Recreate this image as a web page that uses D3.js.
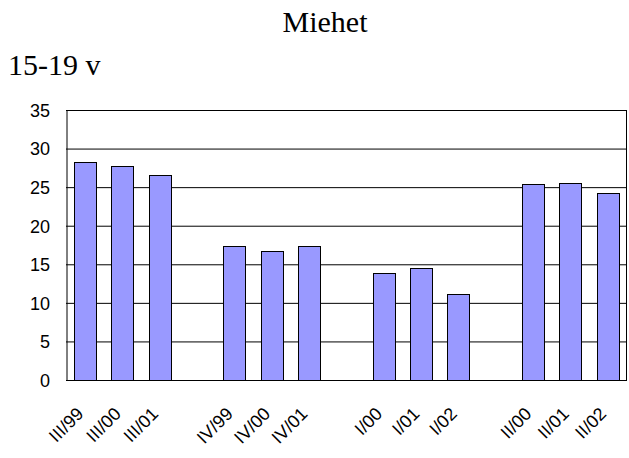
<!DOCTYPE html>
<html>
<head>
<meta charset="utf-8">
<script src="https://cdn.jsdelivr.net/npm/d3@7"></script>
<style>
  body { margin: 0; background: #fff; }
  .title { font-family: "Liberation Serif", "Times New Roman", serif; font-size: 30px; fill: #000; }
  .lbl { font-family: "Liberation Sans", Arial, sans-serif; font-size: 18px; fill: #000; }
</style>
</head>
<body>
<svg id="chart"></svg>
<script>
// values
const groups = [
  ['III/99', 'III/00', 'III/01'],
  ['IV/99', 'IV/00', 'IV/01'],
  ['I/00', 'I/01', 'I/02'],
  ['II/00', 'II/01', 'II/02']
];
const values = [
  [28.2, 27.8, 26.6],
  [17.4, 16.7, 17.4],
  [13.9, 14.5, 11.2],
  [25.4, 25.6, 24.2]
];
const yTicks = [0, 5, 10, 15, 20, 25, 30, 35];
const title = 'Miehet';
const subtitle = '15-19 v';

const width = 629, height = 458;
const margin = { top: 110, right: 3, bottom: 78, left: 66 };
const innerW = width - margin.left - margin.right;
const innerH = height - margin.top - margin.bottom;

// slots: categories with an empty slot between groups
const slots = [];
const data = [];
groups.forEach((g, gi) => {
  if (gi > 0) slots.push('gap' + gi);
  g.forEach((c, ci) => {
    slots.push(c);
    data.push({ cat: c, value: values[gi][ci] });
  });
});

const svg = d3.select('#chart')
  .attr('width', width)
  .attr('height', height);

svg.append('text')
  .attr('class', 'title')
  .attr('x', 325)
  .attr('y', 32)
  .attr('text-anchor', 'middle')
  .text(title);

svg.append('text')
  .attr('class', 'title')
  .attr('x', 8)
  .attr('y', 75)
  .text(subtitle);

const chart = svg.append('g')
  .attr('transform', `translate(${margin.left},${margin.top})`);

const xScale = d3.scaleBand()
  .domain(slots)
  .range([0, innerW])
  .paddingInner(0.42)
  .paddingOuter(0.21);

const yScale = d3.scaleLinear()
  .domain([0, 35])
  .range([innerH, 0]);

// gridlines
chart.append('g')
  .selectAll('line')
  .data(yTicks)
  .join('line')
  .attr('x1', 0)
  .attr('x2', innerW)
  .attr('y1', d => yScale(d) + 0.5)
  .attr('y2', d => yScale(d) + 0.5)
  .attr('stroke', '#000')
  .attr('stroke-width', 1);

// right border
chart.append('line')
  .attr('x1', innerW + 0.5).attr('x2', innerW + 0.5)
  .attr('y1', 0).attr('y2', innerH)
  .attr('stroke', '#000');

// bars
chart.append('g')
  .selectAll('rect')
  .data(data)
  .join('rect')
  .attr('x', d => Math.round(xScale(d.cat)) + 0.5)
  .attr('y', d => Math.round(yScale(d.value)) + 0.5)
  .attr('width', Math.round(xScale.bandwidth()))
  .attr('height', d => Math.round(innerH - yScale(d.value)))
  .attr('fill', '#9999ff')
  .attr('stroke', '#000')
  .attr('stroke-width', 1);

// y axis
const yAxisG = chart.append('g')
  .call(d3.axisLeft(yScale).tickValues(yTicks).tickSize(0).tickPadding(16));
yAxisG.select('.domain').attr('stroke', '#000').attr('transform', 'translate(0.5,0)');
yAxisG.selectAll('.tick text')
  .attr('class', 'lbl')
  .attr('dy', '0.35em');

// x axis line
chart.append('line')
  .attr('x1', 0).attr('x2', innerW + 1)
  .attr('y1', innerH + 0.5).attr('y2', innerH + 0.5)
  .attr('stroke', '#000');

// x labels, rotated
chart.append('g')
  .selectAll('text')
  .data(data)
  .join('text')
  .attr('class', 'lbl')
  .attr('text-anchor', 'end')
  .attr('transform', d => `translate(${xScale(d.cat) + xScale.bandwidth() / 2},${innerH + 35}) rotate(-45)`)
  .text(d => d.cat);
</script>
</body>
</html>
